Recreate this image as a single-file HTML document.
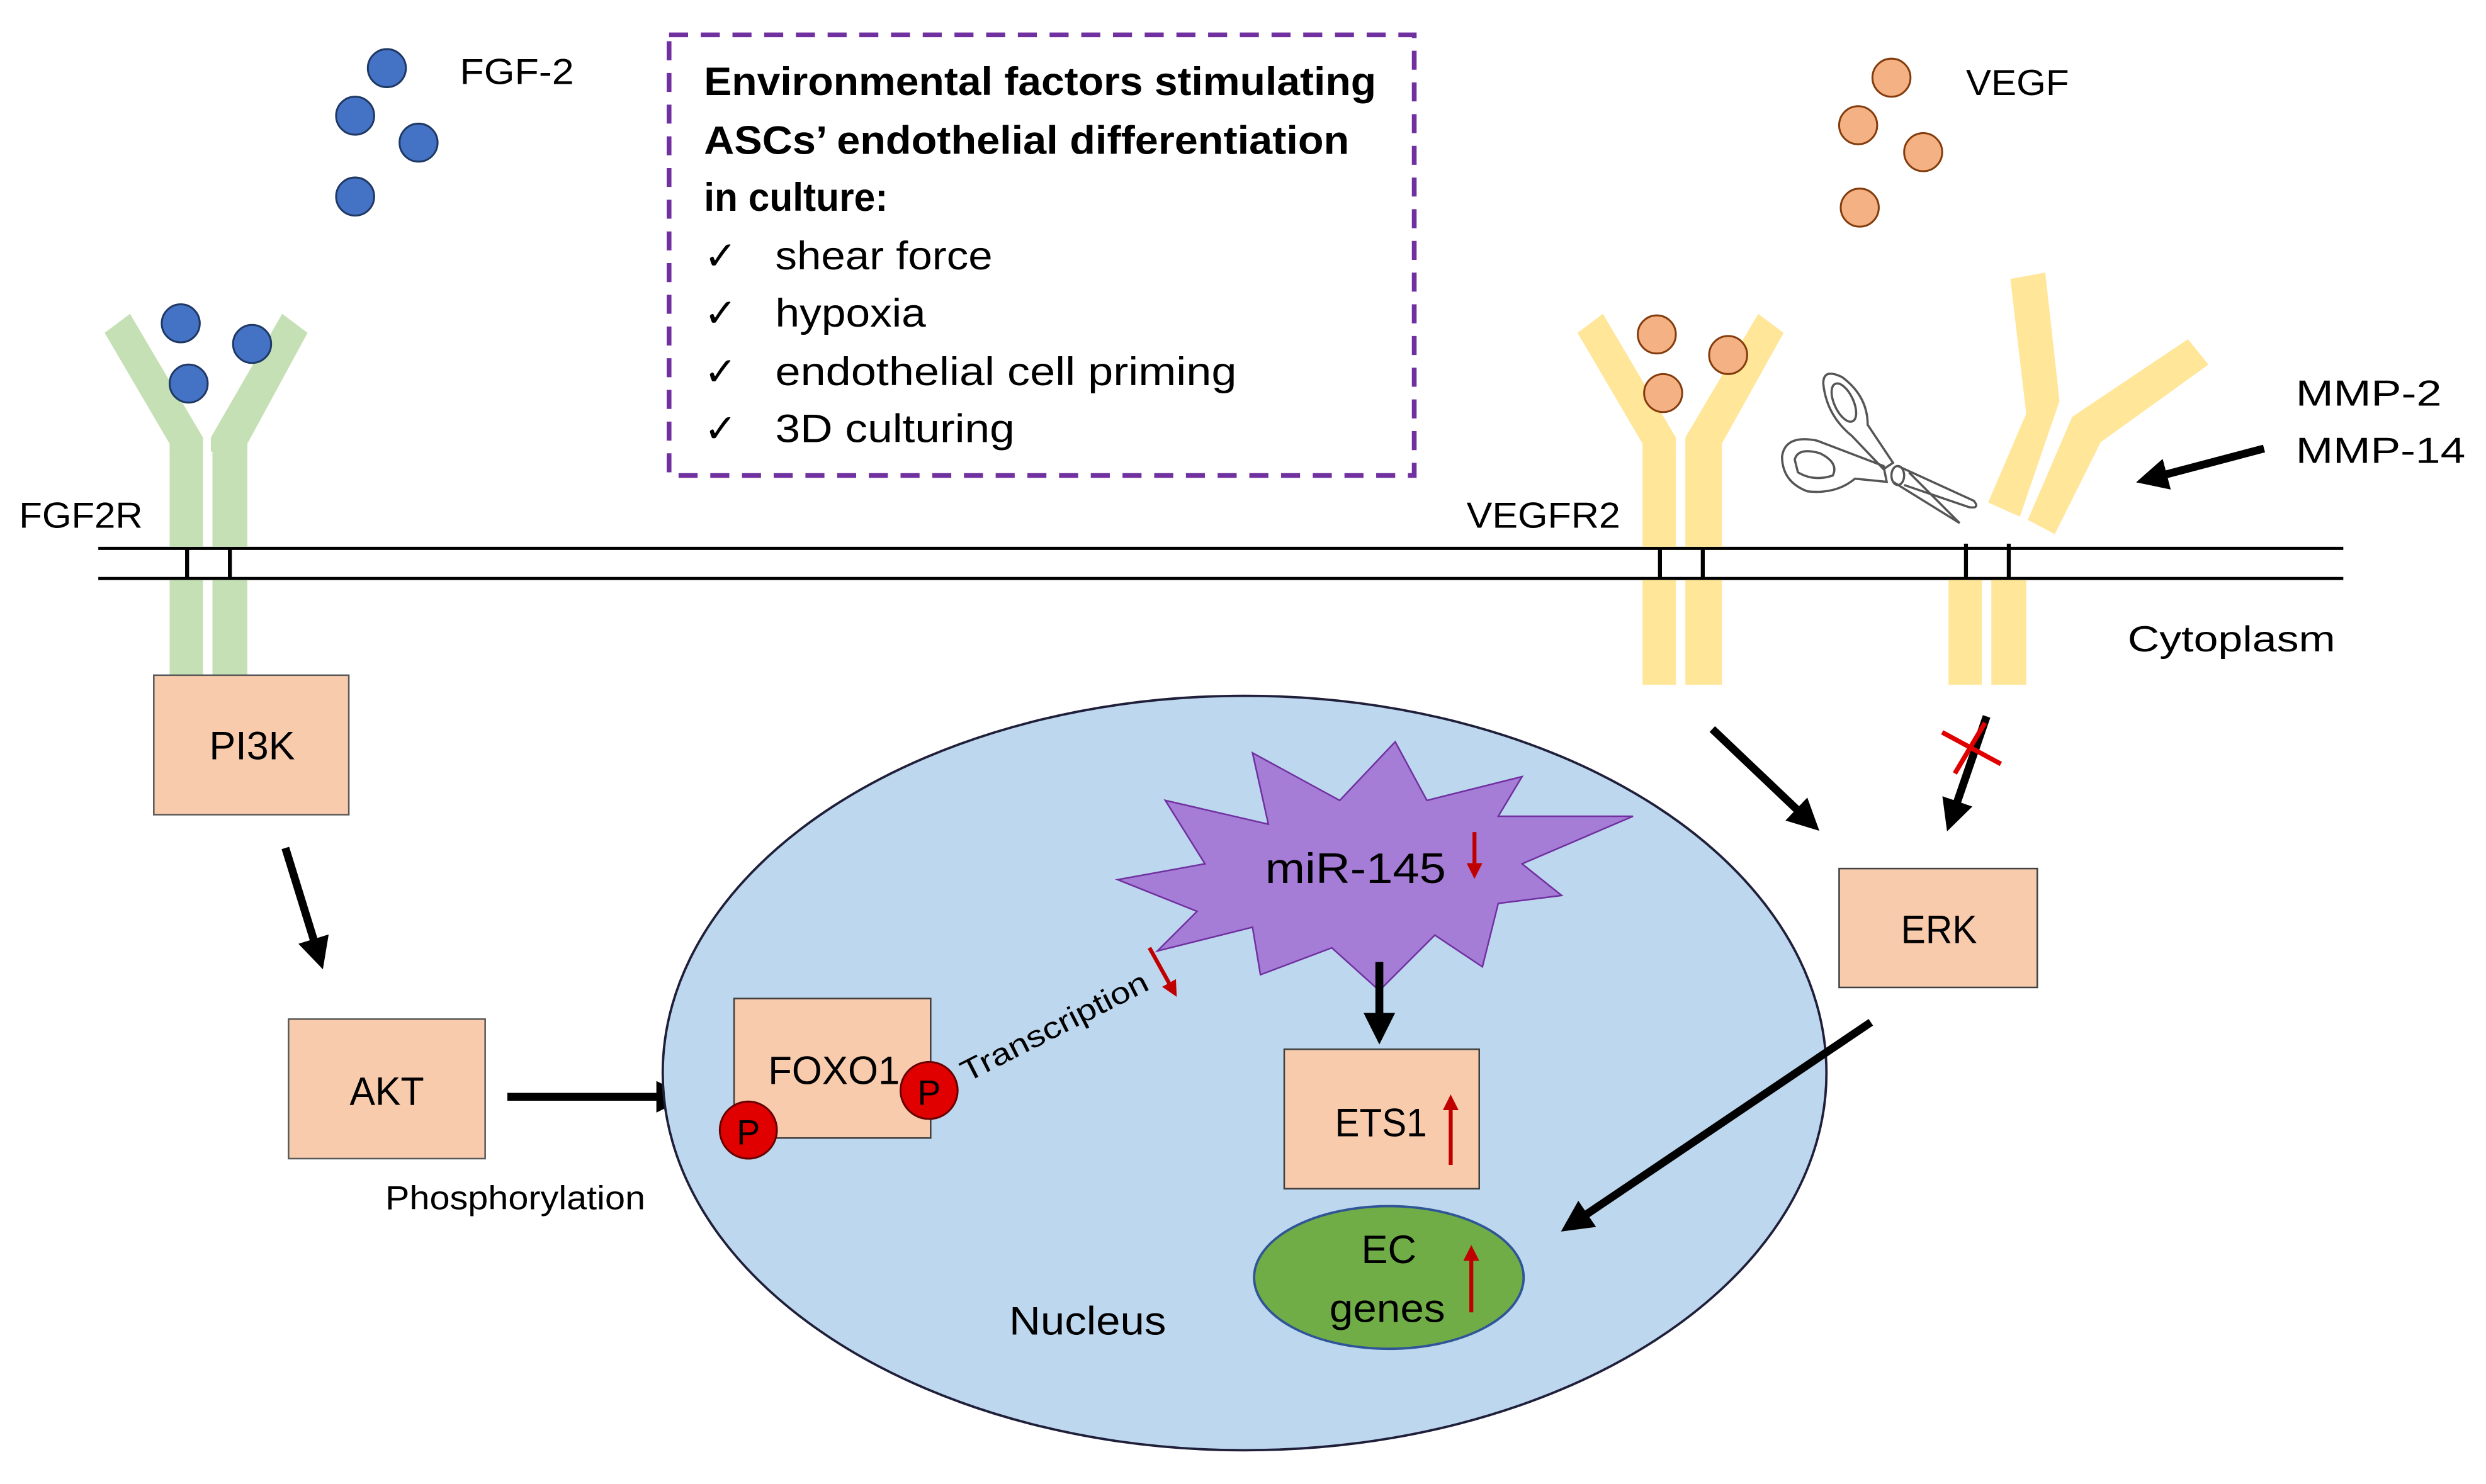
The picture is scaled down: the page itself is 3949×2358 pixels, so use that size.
<!DOCTYPE html>
<html><head><meta charset="utf-8"><style>
html,body{margin:0;padding:0;background:#fff;}
svg{display:block;}
text{font-family:"Liberation Sans",sans-serif;fill:#000;}
</style></head><body>
<svg width="3949" height="2358" viewBox="0 0 1568 936.3" preserveAspectRatio="none" xmlns="http://www.w3.org/2000/svg">
<defs>
<marker id="ah" markerWidth="4" markerHeight="4" refX="2.2" refY="2" orient="auto" markerUnits="strokeWidth"><path d="M0,0 L4,2 L0,4 Z" fill="#000"/></marker>
<marker id="rh" markerWidth="4" markerHeight="4" refX="2.2" refY="2" orient="auto" markerUnits="strokeWidth"><path d="M0,0 L4,2 L0,4 Z" fill="#c00000"/></marker>
</defs>
<g fill="#4472c4" stroke="#1f3864" stroke-width="1.2">
<circle cx="244" cy="43" r="12"/><circle cx="224" cy="73" r="12"/><circle cx="264" cy="90" r="12"/><circle cx="224" cy="124" r="12"/>
</g>
<text x="290" y="53" font-size="23" textLength="72" lengthAdjust="spacingAndGlyphs">FGF-2</text>
<rect x="422" y="22" width="470" height="278" fill="none" stroke="#7030a0" stroke-width="3" stroke-dasharray="12,8"/>
<g font-size="25" font-weight="bold"><text x="444" y="60" textLength="424" lengthAdjust="spacingAndGlyphs">Environmental factors stimulating</text><text x="444" y="97" textLength="407" lengthAdjust="spacingAndGlyphs">ASCs’ endothelial differentiation</text><text x="444" y="133" textLength="116" lengthAdjust="spacingAndGlyphs">in culture:</text></g>
<g font-size="25"><text x="444" y="170">✓</text><text x="489" y="170" textLength="137" lengthAdjust="spacingAndGlyphs">shear force</text>
<text x="444" y="206">✓</text><text x="489" y="206" textLength="95" lengthAdjust="spacingAndGlyphs">hypoxia</text>
<text x="444" y="243">✓</text><text x="489" y="243" textLength="291" lengthAdjust="spacingAndGlyphs">endothelial cell priming</text>
<text x="444" y="279">✓</text><text x="489" y="279" textLength="151" lengthAdjust="spacingAndGlyphs">3D culturing</text></g>
<g fill="#f4b183" stroke="#843c0c" stroke-width="1.2">
<circle cx="1193" cy="49" r="12"/><circle cx="1172" cy="79" r="12"/><circle cx="1213" cy="96" r="12"/><circle cx="1173" cy="131" r="12"/>
</g>
<text x="1240" y="60" font-size="23" textLength="65" lengthAdjust="spacingAndGlyphs">VEGF</text>
<line x1="62" y1="346" x2="1478" y2="346" stroke="#000" stroke-width="2"/>
<line x1="62" y1="365" x2="1478" y2="365" stroke="#000" stroke-width="2"/>
<g fill="#c5e0b4">
<path d="M66,210 L82,198 L128,276 L128,285 L107,285 L107,280 Z"/>
<path d="M194,210 L178,198 L133,276 L133,285 L156,285 L156,280 Z"/>
<rect x="107" y="280" width="21" height="65"/><rect x="134" y="280" width="22" height="65"/>
<rect x="107" y="366" width="21" height="66"/><rect x="134" y="366" width="22" height="66"/>
</g>
<g stroke="#000" stroke-width="2.5"><line x1="118" y1="346" x2="118" y2="365"/><line x1="145" y1="346" x2="145" y2="365"/></g>
<g fill="#4472c4" stroke="#1f3864" stroke-width="1.2"><circle cx="114" cy="204" r="12"/><circle cx="159" cy="217" r="12"/><circle cx="119" cy="242" r="12"/></g>
<text x="12" y="333" font-size="23" textLength="78" lengthAdjust="spacingAndGlyphs">FGF2R</text>
<g fill="#ffe699">
<path d="M995,210 L1011,198 L1057,276 L1057,285 L1036,285 L1036,280 Z"/>
<path d="M1125,210 L1109,198 L1063,276 L1063,285 L1086,285 L1086,280 Z"/>
<rect x="1036" y="280" width="21" height="65"/><rect x="1063" y="280" width="23" height="65"/>
<rect x="1036" y="366" width="21" height="66"/><rect x="1063" y="366" width="23" height="66"/>
<path d="M1268,176 L1290,172 L1299,253 L1274,326 L1254,317 L1278,261 Z"/>
<path d="M1307,263 L1380,214 L1393,230 L1325,279 L1296,337 L1279,328 Z"/>
<rect x="1229" y="366" width="21" height="66"/><rect x="1256" y="366" width="22" height="66"/>
</g>
<g stroke="#000" stroke-width="2.5"><line x1="1047" y1="346" x2="1047" y2="365"/><line x1="1074" y1="346" x2="1074" y2="365"/><line x1="1240" y1="343" x2="1240" y2="365"/><line x1="1267" y1="343" x2="1267" y2="365"/></g>
<g fill="#f4b183" stroke="#843c0c" stroke-width="1.2"><circle cx="1045" cy="211" r="12"/><circle cx="1090" cy="224" r="12"/><circle cx="1049" cy="248" r="12"/></g>
<text x="925" y="333" font-size="23" textLength="97" lengthAdjust="spacingAndGlyphs">VEGFR2</text>
<!-- scissors -->
<g fill="none" stroke="#555" stroke-width="1.4">
<path d="M1150,242 Q1150,232 1162,238 Q1178,250 1178,268 L1194,292 L1188,296 L1168,275 Q1152,262 1150,242 Z"/>
<ellipse cx="1163" cy="254" rx="6" ry="13" transform="rotate(-25 1163 254)"/>
<path d="M1124,288 Q1126,274 1146,278 L1188,294 L1190,304 L1170,302 Q1158,312 1140,310 Q1124,304 1124,288 Z"/>
<path d="M1132,290 Q1134,282 1148,286 Q1160,292 1156,300 Q1144,304 1134,298 Z"/>
<ellipse cx="1197" cy="300" rx="4" ry="6"/>
<path d="M1197,294 L1245,316 Q1249,321 1242,320 L1201,306"/>
<path d="M1194,304 L1236,330 L1204,298"/>
</g>
<text x="1448" y="256" font-size="23" textLength="92" lengthAdjust="spacingAndGlyphs">MMP-2</text>
<text x="1448" y="292" font-size="23" textLength="107" lengthAdjust="spacingAndGlyphs">MMP-14</text>
<line x1="1428" y1="283" x2="1356" y2="302" stroke="#000" stroke-width="5" marker-end="url(#ah)"/>
<text x="1342" y="411" font-size="23" textLength="131" lengthAdjust="spacingAndGlyphs">Cytoplasm</text>
<g fill="#f8cbad" stroke="#595959" stroke-width="1">
<rect x="97" y="426" width="123" height="88"/>
<rect x="182" y="643" width="124" height="88"/>
</g>
<text x="159" y="479" font-size="25" text-anchor="middle" textLength="54" lengthAdjust="spacingAndGlyphs">PI3K</text>
<text x="244" y="697" font-size="25" text-anchor="middle" textLength="47" lengthAdjust="spacingAndGlyphs">AKT</text>
<text x="243" y="763" font-size="21" textLength="164" lengthAdjust="spacingAndGlyphs">Phosphorylation</text>
<line x1="180" y1="535" x2="201" y2="603" stroke="#000" stroke-width="5" marker-end="url(#ah)"/>
<line x1="320" y1="692" x2="425" y2="692" stroke="#000" stroke-width="5" marker-end="url(#ah)"/>
<ellipse cx="785" cy="677" rx="367" ry="238" fill="#bdd7ee" stroke="#1f1f3a" stroke-width="1.5"/>
<text x="686" y="842" font-size="25" text-anchor="middle" textLength="99" lengthAdjust="spacingAndGlyphs">Nucleus</text>
<rect x="463" y="630" width="124" height="88" fill="#f8cbad" stroke="#404040" stroke-width="1"/>
<text x="526" y="684" font-size="25" text-anchor="middle" textLength="83" lengthAdjust="spacingAndGlyphs">FOXO1</text>
<g fill="#e00000" stroke="#600" stroke-width="1.2"><circle cx="472" cy="713" r="18"/><circle cx="586" cy="688" r="18"/></g>
<text x="472" y="722" font-size="22" text-anchor="middle">P</text>
<text x="586" y="697" font-size="22" text-anchor="middle">P</text>
<text x="610" y="683" font-size="19" transform="rotate(-27 610 683)" textLength="130" lengthAdjust="spacingAndGlyphs">Transcription</text>
<line x1="725" y1="598" x2="740" y2="625" stroke="#c00000" stroke-width="2.5" marker-end="url(#rh)"/>
<polygon points="705,555 760,545 735,505 800,520 790,475 845,505 880,468 900,505 960,490 945,515 1030,515 960,545 985,565 945,570 935,610 905,590 870,625 840,598 795,615 790,585 730,600 755,575" fill="#a57cd6" stroke="#7030a0" stroke-width="1"/>
<text x="855" y="557" font-size="27" text-anchor="middle" textLength="114" lengthAdjust="spacingAndGlyphs">miR-145</text>
<line x1="930" y1="525" x2="930" y2="550" stroke="#c00000" stroke-width="2.5" marker-end="url(#rh)"/>
<line x1="870" y1="607" x2="870" y2="650" stroke="#000" stroke-width="5" marker-end="url(#ah)"/>
<rect x="810" y="662" width="123" height="88" fill="#f8cbad" stroke="#404040" stroke-width="1"/>
<text x="871" y="717" font-size="25" text-anchor="middle" textLength="58" lengthAdjust="spacingAndGlyphs">ETS1</text>
<line x1="915" y1="735" x2="915" y2="695" stroke="#c00000" stroke-width="2.5" marker-end="url(#rh)"/>
<ellipse cx="876" cy="806" rx="85" ry="45" fill="#70ad47" stroke="#2f5597" stroke-width="1.5"/>
<text x="876" y="797" font-size="25" text-anchor="middle">EC</text>
<text x="875" y="834" font-size="25" text-anchor="middle" textLength="73" lengthAdjust="spacingAndGlyphs">genes</text>
<line x1="928" y1="828" x2="928" y2="790" stroke="#c00000" stroke-width="2.5" marker-end="url(#rh)"/>
<rect x="1160" y="548" width="125" height="75" fill="#f8cbad" stroke="#404040" stroke-width="1"/>
<text x="1223" y="595" font-size="25" text-anchor="middle" textLength="48" lengthAdjust="spacingAndGlyphs">ERK</text>
<line x1="1080" y1="460" x2="1141" y2="518" stroke="#000" stroke-width="5" marker-end="url(#ah)"/>
<line x1="1253" y1="452" x2="1231" y2="516" stroke="#000" stroke-width="5" marker-end="url(#ah)"/>
<g stroke="#e00000" stroke-width="3"><line x1="1225" y1="462" x2="1262" y2="482"/><line x1="1233" y1="488" x2="1252" y2="456"/></g>
<line x1="1180" y1="645" x2="992" y2="772" stroke="#000" stroke-width="5" marker-end="url(#ah)"/>
</svg>
</body></html>
